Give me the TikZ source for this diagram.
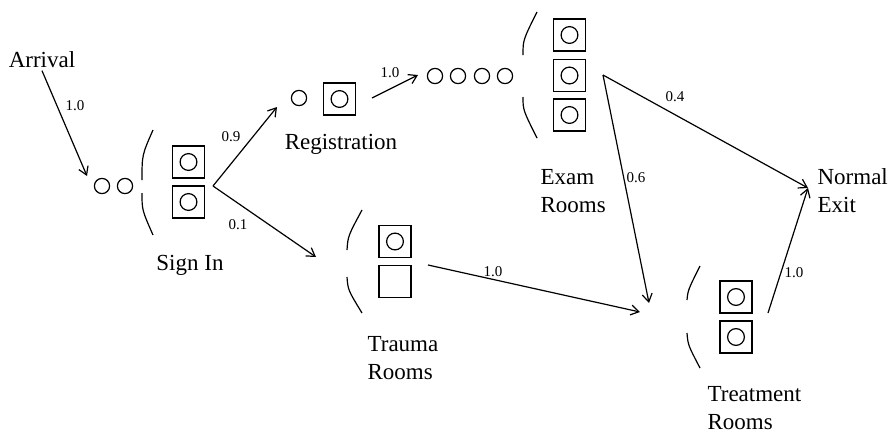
\documentclass[tikz,border=0pt]{standalone}
\usepackage{fontspec}
\setmainfont{Liberation Serif}
\usetikzlibrary{arrows.meta, positioning}

\begin{document}
\begin{tikzpicture}[
    x=0.5pt, y=-0.5pt, line width=0.6pt,
    server/.style={rectangle, draw, minimum size=16pt, inner sep=0pt,
                   path picture={\draw (path picture bounding box.center) circle[radius=4.2pt];}},
    idle/.style={rectangle, draw, minimum size=16pt, inner sep=0pt},
    waiting/.style={circle, draw, minimum size=7.6pt, inner sep=0pt},
    stage/.style={font=\fontsize{11.5}{14}\selectfont, align=left, inner sep=1pt},
    prob/.style={font=\fontsize{7.5}{9}\selectfont, inner sep=1pt},
    arrow/.style={-{Straight Barb[length=4pt, width=5pt]}}
]
\useasboundingbox (0,0) rectangle (890,434);

% Stage labels
\node[stage] (arrival) at (42,60) {Arrival};
\node[stage] (signlbl) at (190,265) {Sign In};
\node[stage] (reglbl) at (341,144) {Registration};
\node[stage, anchor=west] (examlbl) at (538,191) {Exam\\Rooms};
\node[stage, anchor=west] (traumalbl) at (365,358) {Trauma\\Rooms};
\node[stage, anchor=west] (treatlbl) at (705,408) {Treatment\\Rooms};
\node[stage, anchor=west] (exit) at (815,191) {Normal\\Exit};

% Sign In
\node[waiting] (sq1) at (102,186) {};
\node[waiting] (sq2) at (125,186) {};
\node[server] (s1) at (188.5,162) {};
\node[server] (s2) at (188.5,202) {};
\draw (153,130) .. controls (142,155) .. (142,180);
\draw (142,193) .. controls (142,210) .. (153,235);

% Registration
\node[waiting] (rq1) at (299,98) {};
\node[server] (r1) at (339.5,99) {};

% Exam Rooms
\foreach \i/\x in {1/435, 2/458, 3/482, 4/505}
    \node[waiting] (eq\i) at (\x,76) {};
\node[server] (e1) at (569.5,35) {};
\node[server] (e2) at (569.5,75.5) {};
\node[server] (e3) at (569.5,115) {};
\draw (537,12) .. controls (523,40) .. (523,55);
\draw (523,97) .. controls (523,110) .. (537,138);

% Trauma Rooms
\node[server] (t1) at (395,241.5) {};
\node[idle] (t2) at (395,281.5) {};
\draw (362,210) .. controls (348,236) .. (347,250);
\draw (347,277) .. controls (348,290) .. (362,313);

% Treatment Rooms
\node[server] (m1) at (736,297) {};
\node[server] (m2) at (736,337) {};
\draw (700,266) .. controls (688,290) .. (687,300);
\draw (687,333) .. controls (688,345) .. (700,368);

% Connector ends
\coordinate (arrin) at (87,176);
\coordinate (signfork) at (213,186);
\coordinate (regin) at (277,107);
\coordinate (traumain) at (316,257);
\coordinate (regout) at (372,98);
\coordinate (examin) at (418,75);
\coordinate (examfork) at (603,75);
\coordinate (traumaout) at (428,265);
\coordinate (treatin1) at (649,303);
\coordinate (treatin2) at (640,312);
\coordinate (treatout) at (768,313);
\coordinate (exitin) at (808,188);

% Arrows
\draw[arrow] (arrival.south) -- (arrin);
\draw[arrow] (signfork) -- (regin);
\draw[arrow] (signfork) -- (traumain);
\draw[arrow] (regout) -- (examin);
\draw[arrow] (examfork) -- (exitin);
\draw[arrow] (examfork) -- (treatin1);
\draw[arrow] (traumaout) -- (treatin2);
\draw[arrow] (treatout) -- (exitin);

% Routing probabilities
\node[prob] (p1) at (75,106) {1.0};
\node[prob] (p2) at (231,137) {0.9};
\node[prob] (p3) at (238,225) {0.1};
\node[prob] (p4) at (390,73) {1.0};
\node[prob] (p5) at (675,97) {0.4};
\node[prob] (p6) at (636,178) {0.6};
\node[prob] (p7) at (493,272) {1.0};
\node[prob] (p8) at (794,273) {1.0};

\end{tikzpicture}
\end{document}
